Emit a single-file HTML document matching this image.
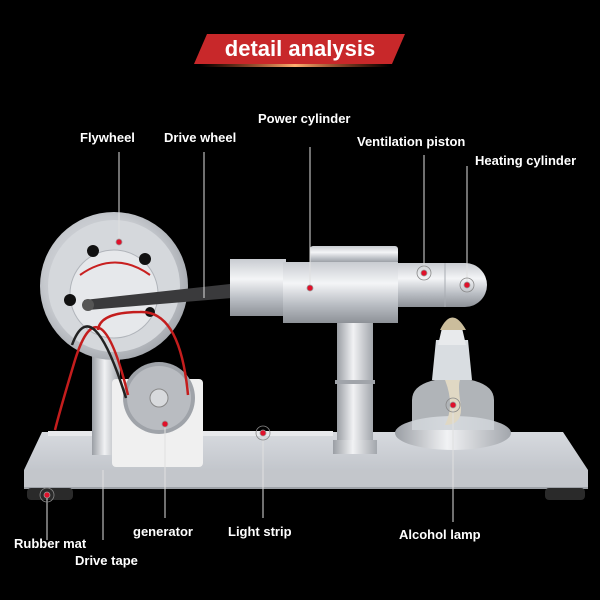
<!DOCTYPE html>
<html><head><style>
html,body{margin:0;padding:0;background:#000;}
svg{display:block}
text{font-family:"Liberation Sans",Arial,sans-serif;font-weight:bold;fill:#fff;}
</style></head><body>
<svg width="600" height="600" viewBox="0 0 600 600" xmlns="http://www.w3.org/2000/svg">
<defs>
<linearGradient id="met" x1="0" y1="0" x2="0" y2="1">
<stop offset="0" stop-color="#c9ccd1"/><stop offset="0.35" stop-color="#f4f5f7"/><stop offset="0.7" stop-color="#b9bdc3"/><stop offset="1" stop-color="#8d9197"/></linearGradient>
<linearGradient id="metv" x1="0" y1="0" x2="1" y2="0">
<stop offset="0" stop-color="#9a9ea4"/><stop offset="0.45" stop-color="#f1f2f4"/><stop offset="1" stop-color="#a2a6ac"/></linearGradient>
<linearGradient id="plate" x1="0" y1="0" x2="0" y2="1">
<stop offset="0" stop-color="#d7dadf"/><stop offset="1" stop-color="#b9bdc3"/></linearGradient>
<radialGradient id="fw" cx="0.45" cy="0.45" r="0.6">
<stop offset="0" stop-color="#e9ebee"/><stop offset="0.7" stop-color="#c6c9ce"/><stop offset="1" stop-color="#9ea2a8"/></radialGradient>
<linearGradient id="glow" x1="0" y1="0" x2="1" y2="0">
<stop offset="0" stop-color="#ff5a2a" stop-opacity="0"/><stop offset="0.5" stop-color="#ffb070"/><stop offset="1" stop-color="#ff5a2a" stop-opacity="0"/></linearGradient>
</defs>

<!-- banner -->
<polygon points="207,34 405,34 392,64 194,64" fill="#c8282a"/>
<rect x="200" y="64" width="190" height="3" fill="url(#glow)"/>
<text x="300" y="56" font-size="22" text-anchor="middle">detail analysis</text>

<!-- labels -->
<text x="80" y="142" font-size="13">Flywheel</text>
<text x="164" y="142" font-size="13">Drive wheel</text>
<text x="258" y="123" font-size="13">Power cylinder</text>
<text x="357" y="146" font-size="13">Ventilation piston</text>
<text x="475" y="165" font-size="13">Heating cylinder</text>
<text x="14" y="548" font-size="13">Rubber mat</text>
<text x="75" y="565" font-size="13">Drive tape</text>
<text x="133" y="536" font-size="13">generator</text>
<text x="228" y="536" font-size="13">Light strip</text>
<text x="399" y="539" font-size="13">Alcohol lamp</text>

<!-- base plate -->
<polygon points="42,432 563,432 588,470 588,488 24,488 24,470" fill="url(#plate)"/>
<rect x="24" y="470" width="564" height="18" fill="#c3c6cb"/>
<rect x="24" y="487" width="564" height="2" fill="#9ea2a8"/>
<rect x="27" y="488" width="46" height="12" rx="4" fill="#2a2a2a"/>
<rect x="545" y="488" width="40" height="12" rx="4" fill="#2a2a2a"/>
<rect x="48" y="431" width="285" height="5" fill="#e8e9ec"/>

<!-- flywheel post -->
<rect x="92" y="330" width="28" height="125" fill="url(#metv)"/>
<!-- flywheel -->
<circle cx="114" cy="286" r="74" fill="url(#fw)"/>
<circle cx="114" cy="286" r="66" fill="#d5d8dc"/>
<circle cx="114" cy="294" r="44" fill="#e6e8eb" stroke="#b0b4ba"/>
<circle cx="93" cy="251" r="6" fill="#111"/><circle cx="145" cy="259" r="6" fill="#111"/>
<circle cx="70" cy="300" r="6" fill="#111"/><circle cx="150" cy="312" r="5" fill="#111"/>
<path d="M80 275 Q115 250 150 275" stroke="#c82020" stroke-width="2" fill="none"/>
<!-- connecting rod -->
<polygon points="84,300 88,310 232,298 230,284" fill="#3a3a3c"/>
<circle cx="88" cy="305" r="6" fill="#555"/>

<!-- cylinder assembly -->
<rect x="230" y="259" width="56" height="57" fill="url(#met)"/>
<rect x="310" y="246" width="88" height="18" rx="3" fill="url(#met)"/>
<rect x="283" y="262" width="115" height="61" fill="url(#met)"/>
<path d="M398 263 H465 A22 22 0 0 1 465 307 H398 Z" fill="url(#met)"/>
<line x1="445" y1="263" x2="445" y2="307" stroke="#a9adb3"/>
<rect x="337" y="323" width="36" height="130" fill="url(#metv)"/>
<rect x="335" y="380" width="40" height="4" fill="#a0a4aa"/>
<rect x="333" y="440" width="44" height="14" fill="url(#metv)"/>

<!-- lamp -->
<ellipse cx="453" cy="433" rx="58" ry="17" fill="url(#metv)"/>
<path d="M412 430 V400 Q412 385 435 380 H471 Q494 385 494 400 V430 Z" fill="#cfd4d8" opacity="0.85"/>
<path d="M432 380 L436 340 H468 L472 380 Z" fill="#d9dde1"/>
<path d="M438 345 L442 328 H462 L466 345 Z" fill="#e8eaec"/>
<path d="M440 330 Q452 305 466 330 Z" fill="#cbbd9c"/>
<path d="M445 380 Q455 405 445 425 Q465 425 460 400 Q458 385 460 380 Z" fill="#e0d8c4"/>

<!-- generator -->
<rect x="112" y="379" width="91" height="88" rx="4" fill="#f0f0f0"/>
<circle cx="159" cy="398" r="36" fill="#9fa3a9"/>
<circle cx="159" cy="398" r="32" fill="#b9bcc1"/>
<circle cx="159" cy="398" r="9" fill="#d8dadd" stroke="#888"/>
<!-- wires -->
<path d="M128 395 Q100 280 75 360 Q60 410 55 430" stroke="#c41d1d" stroke-width="2.5" fill="none"/>
<path d="M126 398 Q92 290 72 345" stroke="#222" stroke-width="2.5" fill="none"/>
<path d="M188 395 Q180 310 140 312 Q100 312 98 330" stroke="#c41d1d" stroke-width="2.5" fill="none"/>

<!-- leader lines -->
<g stroke="#e0e0e0" stroke-width="1">
<line x1="119" y1="152" x2="119" y2="242"/>
<line x1="204" y1="152" x2="204" y2="298"/>
<line x1="310" y1="147" x2="310" y2="288"/>
<line x1="424" y1="155" x2="424" y2="273"/>
<line x1="467" y1="166" x2="467" y2="285"/>
<line x1="47" y1="495" x2="47" y2="540"/>
<line x1="103" y1="470" x2="103" y2="540"/>
<line x1="165" y1="424" x2="165" y2="518"/>
<line x1="263" y1="433" x2="263" y2="518"/>
<line x1="453" y1="405" x2="453" y2="522"/>
</g>
<g fill="#e0102a" stroke="#999" stroke-width="0.8">
<circle cx="119" cy="242" r="3"/><circle cx="310" cy="288" r="3"/>
<circle cx="424" cy="273" r="3"/><circle cx="467" cy="285" r="3"/>
<circle cx="47" cy="495" r="3"/><circle cx="165" cy="424" r="3"/>
<circle cx="263" cy="433" r="3"/><circle cx="453" cy="405" r="3"/>
</g>
<g fill="none" stroke="#888" stroke-width="0.8">
<circle cx="424" cy="273" r="7"/><circle cx="467" cy="285" r="7"/>
<circle cx="47" cy="495" r="7"/><circle cx="263" cy="433" r="7"/><circle cx="453" cy="405" r="7"/>
</g>
</svg>
</body></html>
